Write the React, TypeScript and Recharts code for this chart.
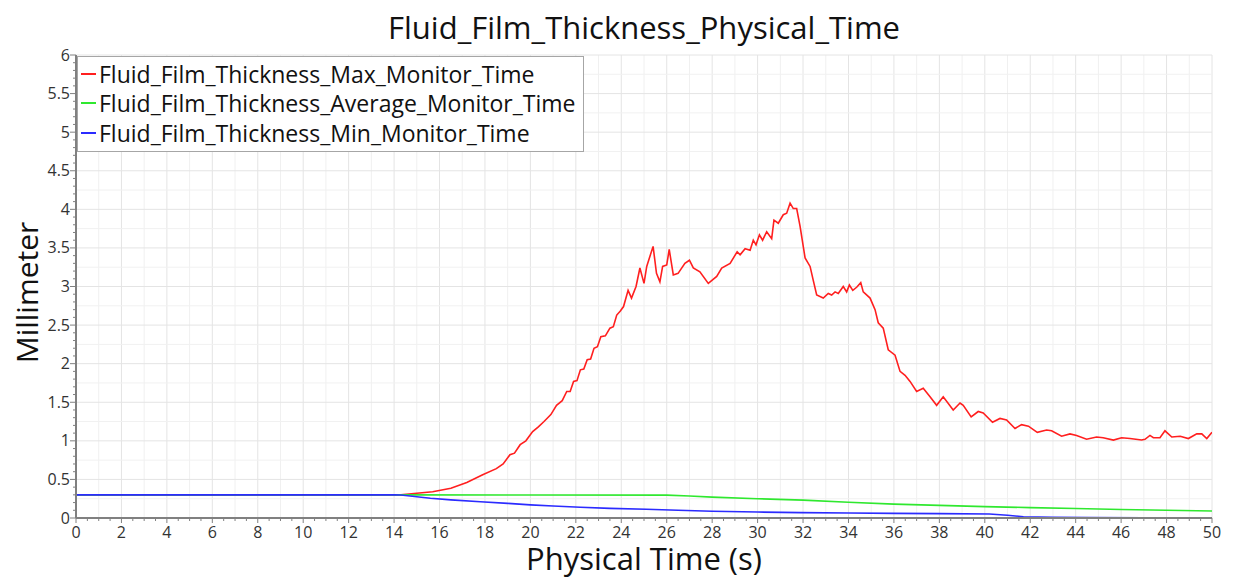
import React from "react";
import { LineChart, Line, XAxis, YAxis, ReferenceLine, Legend, Label } from "recharts";

// Fluid film thickness monitors vs physical time (s), values in mm
const maxTime = [
  0, 14, 14.3, 15.0, 15.7, 16.5, 17.2, 17.9, 18.5, 18.8, 19.1, 19.3, 19.55, 19.8,
  20.1, 20.35, 20.6, 20.9, 21.15, 21.4, 21.6, 21.75, 21.9, 22.05, 22.2, 22.35, 22.5,
  22.65, 22.8, 22.95, 23.1, 23.3, 23.5, 23.65, 23.8, 23.95, 24.1, 24.3, 24.45, 24.65,
  24.82, 25.0, 25.12, 25.4, 25.55, 25.7, 25.82, 26.0, 26.11, 26.29, 26.5, 26.8, 27.0,
  27.17, 27.46, 27.83, 28.2, 28.42, 28.79, 29.1, 29.23, 29.45, 29.67, 29.81, 29.93,
  30.08, 30.22, 30.4, 30.62, 30.72, 30.91, 31.13, 31.28, 31.43, 31.57, 31.72, 31.87,
  32.09, 32.31, 32.45, 32.6, 32.89, 33.11, 33.26, 33.41, 33.55, 33.77, 33.92, 34.04,
  34.19, 34.36, 34.54, 34.65, 34.95, 35.17, 35.31, 35.53, 35.75, 36.05, 36.27, 36.49,
  36.71, 37.0, 37.29, 37.59, 37.88, 38.17, 38.61, 38.91, 39.05, 39.4, 39.71, 39.93,
  40.34, 40.67, 40.96, 41.33, 41.62, 41.92, 42.31, 42.72, 42.94, 43.38, 43.75, 44.04,
  44.48, 44.92, 45.21, 45.66, 46.02, 46.39, 46.9, 47.05, 47.27, 47.42, 47.71, 47.93,
  48.23, 48.6, 48.96, 49.33, 49.55, 49.77, 50.0,
];
const maxThickness = [
  0.3, 0.3, 0.3, 0.32, 0.34, 0.385, 0.46, 0.56, 0.64, 0.7, 0.82, 0.84, 0.95, 1.0,
  1.12, 1.18, 1.25, 1.34, 1.46, 1.52, 1.64, 1.64, 1.77, 1.78, 1.92, 1.93, 2.05,
  2.06, 2.2, 2.22, 2.35, 2.36, 2.46, 2.48, 2.63, 2.68, 2.74, 2.95, 2.85, 3.0,
  3.24, 3.04, 3.26, 3.52, 3.17, 3.06, 3.26, 3.28, 3.48, 3.15, 3.17, 3.3, 3.34,
  3.24, 3.19, 3.04, 3.13, 3.24, 3.3, 3.45, 3.41, 3.49, 3.47, 3.6, 3.54,
  3.67, 3.6, 3.71, 3.62, 3.86, 3.82, 3.93, 3.95, 4.08, 4.01, 4.01, 3.78,
  3.37, 3.26, 3.08, 2.89, 2.85, 2.91, 2.89, 2.93, 2.91, 3.0, 2.93, 3.02,
  2.95, 2.99, 3.05, 2.93, 2.85, 2.7, 2.53, 2.46, 2.18, 2.11, 1.9, 1.85,
  1.77, 1.64, 1.68, 1.57, 1.46, 1.57, 1.4, 1.49, 1.46, 1.31, 1.38, 1.36,
  1.24, 1.29, 1.27, 1.16, 1.21, 1.19, 1.11, 1.14, 1.13, 1.06, 1.09, 1.07,
  1.02, 1.05, 1.04, 1.01, 1.04, 1.03, 1.01, 1.02, 1.07, 1.04, 1.04, 1.13,
  1.05, 1.06, 1.03, 1.09, 1.09, 1.03, 1.11,
];

const avgTime = [0, 14, 20, 26, 27, 28, 30, 32, 34, 36, 38, 40, 42, 44, 46, 48, 50];
const avgThickness = [
  0.3, 0.3, 0.298, 0.297, 0.285, 0.27, 0.25, 0.232, 0.205, 0.18, 0.163, 0.147, 0.135,
  0.123, 0.11, 0.1, 0.09,
];

const minTime = [
  0, 14, 14.3, 15, 15.6, 16.5, 17.8, 19, 20, 21, 22.2, 23.5, 25.1, 26.5, 28, 30, 31.9,
  34, 36, 38, 40.2, 41, 41.7, 43, 44.6, 47, 50,
];
const minThickness = [
  0.3, 0.3, 0.298, 0.275, 0.255, 0.235, 0.21, 0.19, 0.17, 0.155, 0.14, 0.125, 0.113, 0.1,
  0.087, 0.077, 0.07, 0.065, 0.06, 0.057, 0.052, 0.035, 0.017, 0.01, 0.005, 0.004, 0.003,
];

const xTickLabels = [0, 2, 4, 6, 8, 10, 12, 14, 16, 18, 20, 22, 24, 26, 28, 30, 32, 34, 36, 38, 40, 42, 44, 46, 48, 50];
const yTickLabels = [0, 0.5, 1, 1.5, 2, 2.5, 3, 3.5, 4, 4.5, 5, 5.5, 6];

const series = [
  { name: "Fluid_Film_Thickness_Max_Monitor_Time", color: "#ff1f1f", time: maxTime, values: maxThickness },
  { name: "Fluid_Film_Thickness_Average_Monitor_Time", color: "#2fe82f", time: avgTime, values: avgThickness },
  { name: "Fluid_Film_Thickness_Min_Monitor_Time", color: "#2b2bff", time: minTime, values: minThickness },
];

const FONT = "'Open Sans', 'Noto Sans', sans-serif";
const AXIS = "#808080";

// minor ticks / grid positions
const xTicks = Array.from({ length: 101 }, (_, i) => i / 2);
const yTicks = Array.from({ length: 61 }, (_, i) => i / 10);
const xGrid = Array.from({ length: 50 }, (_, i) => i + 1);
const yGrid = Array.from({ length: 24 }, (_, i) => (i + 1) / 4);

const XTick = (props: any) => {
  const { x, y, payload } = props;
  const v = payload.value;
  const major = xTickLabels.includes(v);
  return (
    <g>
      <line x1={x} x2={x} y1={y} y2={y + (major ? 5 : 3)} stroke={AXIS} strokeWidth={1} />
      {major && (
        <text x={x} y={y + 20} textAnchor="middle" fill="#333" fontSize={16} fontFamily={FONT}>
          {v}
        </text>
      )}
    </g>
  );
};

const YTick = (props: any) => {
  const { x, y, payload } = props;
  const v = payload.value;
  const major = yTickLabels.includes(v);
  return (
    <g>
      <line x1={x - (major ? 6 : 3)} x2={x} y1={y} y2={y} stroke={AXIS} strokeWidth={1} />
      {major && (
        <text x={x - 6} y={y + 5.5} textAnchor="end" fill="#333" fontSize={16} fontFamily={FONT}>
          {v}
        </text>
      )}
    </g>
  );
};

const renderLegend = () => (
  <div
    style={{
      border: "1px solid #a6a6a6",
      background: "#fff",
      padding: "2px 7px 3px 3px",
      fontFamily: FONT,
      fontSize: 23,
      color: "#111",
    }}
  >
    {series.map((s) => (
      <div key={s.name} style={{ display: "flex", alignItems: "center", height: 29.5 }}>
        <span style={{ display: "inline-block", width: 15, height: 2, background: s.color, marginRight: 3 }} />
        {s.name}
      </div>
    ))}
  </div>
);

export default function App() {
  return (
    <div style={{ position: "absolute", left: 0, top: 0, width: 1233, height: 578, background: "#fff", fontFamily: FONT }}>
      <div
        style={{
          position: "absolute",
          left: 244,
          top: 12,
          width: 800,
          textAlign: "center",
          fontSize: 31,
          lineHeight: "31px",
          color: "#111",
        }}
      >
        Fluid_Film_Thickness_Physical_Time
      </div>
      <LineChart width={1233} height={578} margin={{ top: 55, right: 21, bottom: 0, left: 0 }}>
        {xGrid.map((v) => (
          <ReferenceLine key={"gx" + v} x={v} stroke={v % 2 === 0 ? "#e4e4e4" : "#f0f0f0"} strokeWidth={1} />
        ))}
        {yGrid.map((v) => (
          <ReferenceLine key={"gy" + v} y={v} stroke={v % 0.5 === 0 ? "#e4e4e4" : "#f1f1f1"} strokeWidth={1} />
        ))}
        <XAxis
          dataKey="t"
          type="number"
          domain={[0, 50]}
          ticks={xTicks}
          interval={0}
          tick={<XTick />}
          tickLine={false}
          tickSize={0}
          tickMargin={0}
          height={60}
          axisLine={{ stroke: AXIS, strokeWidth: 2 }}
          allowDataOverflow
        >
          <Label
            content={(p: any) => (
              <text
                x={p.viewBox.x + p.viewBox.width / 2}
                y={p.viewBox.y + 52}
                textAnchor="middle"
                fontSize={31}
                fill="#111"
                fontFamily={FONT}
              >
                Physical Time (s)
              </text>
            )}
          />
        </XAxis>
        <YAxis
          type="number"
          domain={[0, 6]}
          ticks={yTicks}
          interval={0}
          tick={<YTick />}
          tickLine={false}
          tickSize={0}
          tickMargin={0}
          width={76}
          axisLine={{ stroke: AXIS, strokeWidth: 2 }}
          allowDataOverflow
        >
          <Label
            content={(p: any) => {
              const cx = 27;
              const cy = p.viewBox.y + p.viewBox.height / 2 + 6;
              return (
                <text
                  x={cx}
                  y={cy}
                  dy={11}
                  textAnchor="middle"
                  fontSize={30}
                  fill="#111"
                  fontFamily={FONT}
                  transform={`rotate(-90 ${cx} ${cy})`}
                >
                  Millimeter
                </text>
              );
            }}
          />
        </YAxis>
        {series.map((s) => (
          <Line
            key={s.name}
            data={s.time.map((t, i) => ({ t, v: s.values[i] }))}
            dataKey="v"
            name={s.name}
            type="linear"
            stroke={s.color}
            strokeWidth={1.6}
            dot={false}
            activeDot={false}
            isAnimationActive={false}
          />
        ))}
        <Legend
          layout="horizontal"
          verticalAlign="middle"
          align="center"
          content={renderLegend}
          wrapperStyle={{ top: 56, left: 77, width: "auto" }}
        />
      </LineChart>
    </div>
  );
}
